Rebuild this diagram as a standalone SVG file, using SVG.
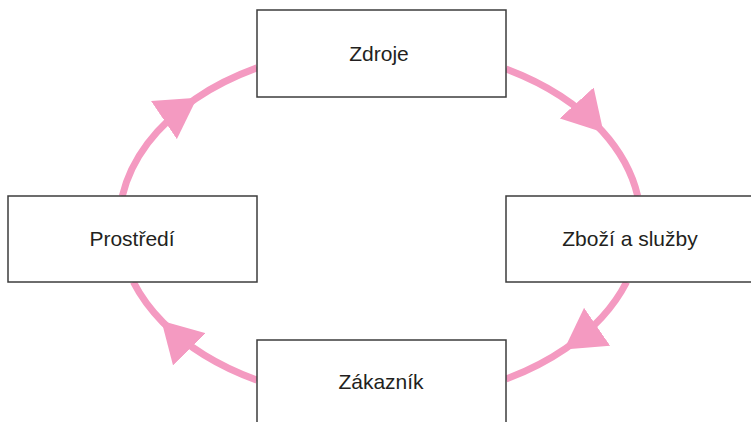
<svg xmlns="http://www.w3.org/2000/svg" width="751" height="422" viewBox="0 0 751 422">
  <style>
    .box { fill: #ffffff; stroke: #3c3c3c; stroke-width: 1.5; }
    .label { font-family: "Liberation Sans", Arial, sans-serif; font-size: 21px; fill: #231f20; text-anchor: middle; }
    .flow { fill: none; stroke: #f49ac1; stroke-width: 7; marker-mid: url(#head); }
  </style>
  <defs>
    <marker id="head" markerUnits="userSpaceOnUse" markerWidth="40" markerHeight="46" viewBox="0 0 40 46" refX="38" refY="23" orient="auto">
      <path d="M0,0 L40,23 L0,46 z" fill="#f49ac1"/>
    </marker>
  </defs>
  <rect width="751" height="422" fill="#ffffff"/>

  <!-- elliptical cycle, centre (380,224), radii 261 x 177, clockwise -->
  <g id="connectors">
    <path class="flow" d="M122.3,196 A261,177 0 0 1 195.4,98.8 A261,177 0 0 1 257,67.9"/>
    <path class="flow" d="M506,69 A261,177 0 0 1 602.2,131.1 A261,177 0 0 1 637.7,196"/>
    <path class="flow" d="M626.6,282 A261,177 0 0 1 565.8,348.3 A261,177 0 0 1 506,379"/>
    <path class="flow" d="M257,380.1 A261,177 0 0 1 162.8,322.2 A261,177 0 0 1 133.4,282"/>
  </g>

  <g id="zdroje">
    <rect class="box" x="257" y="10" width="249" height="87"/>
    <text class="label" x="379" y="61">Zdroje</text>
  </g>
  <g id="zbozi">
    <rect class="box" x="506" y="196" width="249" height="86"/>
    <text class="label" x="630" y="246">Zboží a služby</text>
  </g>
  <g id="zakaznik">
    <rect class="box" x="257" y="340" width="249" height="87"/>
    <text class="label" x="381" y="389">Zákazník</text>
  </g>
  <g id="prostredi">
    <rect class="box" x="8" y="196" width="249" height="86"/>
    <text class="label" x="132" y="246">Prostředí</text>
  </g>
</svg>
